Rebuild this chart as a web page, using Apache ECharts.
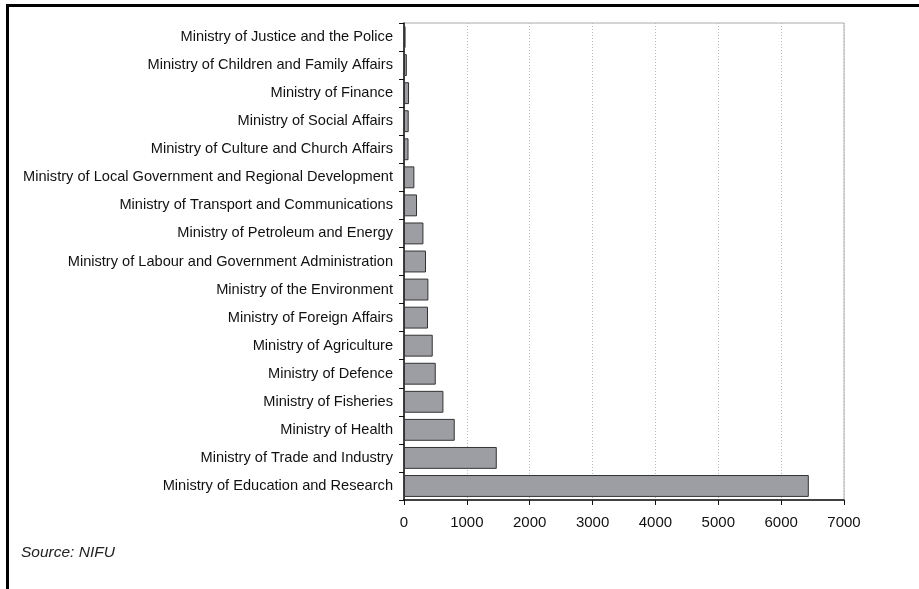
<!DOCTYPE html>
<html><head><meta charset="utf-8">
<script src="https://cdn.jsdelivr.net/npm/echarts@6/dist/echarts.min.js"></script>
<style>html,body{margin:0;padding:0;background:#fff}#c{width:919px;height:589px}</style>
</head><body><div id="c"></div>
<script>
const categories = [
  "Ministry of Justice and the Police",
  "Ministry of Children and Family Affairs",
  "Ministry of Finance",
  "Ministry of Social Affairs",
  "Ministry of Culture and Church Affairs",
  "Ministry of Local Government and Regional Development",
  "Ministry of Transport and Communications",
  "Ministry of Petroleum and Energy",
  "Ministry of Labour and Government Administration",
  "Ministry of the Environment",
  "Ministry of Foreign Affairs",
  "Ministry of Agriculture",
  "Ministry of Defence",
  "Ministry of Fisheries",
  "Ministry of Health",
  "Ministry of Trade and Industry",
  "Ministry of Education and Research"
];
const values = [25, 45, 80, 75, 72, 165, 207, 309, 350, 388, 382, 457, 505, 627, 807, 1476, 6440];
const xTicks = [0, 1000, 2000, 3000, 4000, 5000, 6000, 7000];
const sourceText = "Source: NIFU";

const chart = echarts.init(document.getElementById('c'), null, {renderer: 'canvas'});
const font = 'Liberation Sans, Arial, sans-serif';
chart.setOption({
  animation: false,
  backgroundColor: '#fff',
  grid: {left: 404, right: 75, top: 23, bottom: 89, containLabel: false,
         show: true, borderColor: '#aaaaaa', borderWidth: 1},
  xAxis: {
    type: 'value', min: xTicks[0], max: xTicks[xTicks.length - 1], interval: 1000,
    axisLine: {show: true, lineStyle: {color: '#111', width: 1.5}},
    axisTick: {show: true, length: 5, lineStyle: {color: '#111'}},
    axisLabel: {color: '#111', fontFamily: font, fontSize: 15, margin: 15,
                formatter: v => String(v)},
    splitLine: {show: true, lineStyle: {color: '#bbbbbb', type: [1, 2], width: 1}}
  },
  yAxis: {
    type: 'category', data: categories, inverse: true,
    axisLine: {show: true, lineStyle: {color: '#111', width: 1.5}},
    axisTick: {show: true, length: 5, alignWithLabel: false, lineStyle: {color: '#111'}},
    axisLabel: {color: '#111', fontFamily: font, fontSize: 14.6, margin: 11},
    splitLine: {show: false}
  },
  series: [{
    type: 'bar', data: values, barCategoryGap: '22%',
    itemStyle: {color: '#9d9ea3', borderColor: '#333', borderWidth: 1}
  }],
  graphic: [
    {type: 'rect', shape: {x: 6, y: 4, width: 913, height: 3}, style: {fill: '#000'}, z: 100},
    {type: 'rect', shape: {x: 6, y: 4, width: 3, height: 585}, style: {fill: '#000'}, z: 100},
    {type: 'text', left: 21, top: 545, style: {text: sourceText, fontFamily: font, fontSize: 15.5, fontStyle: 'italic', fill: '#222'}}
  ]
});
</script></body></html>
